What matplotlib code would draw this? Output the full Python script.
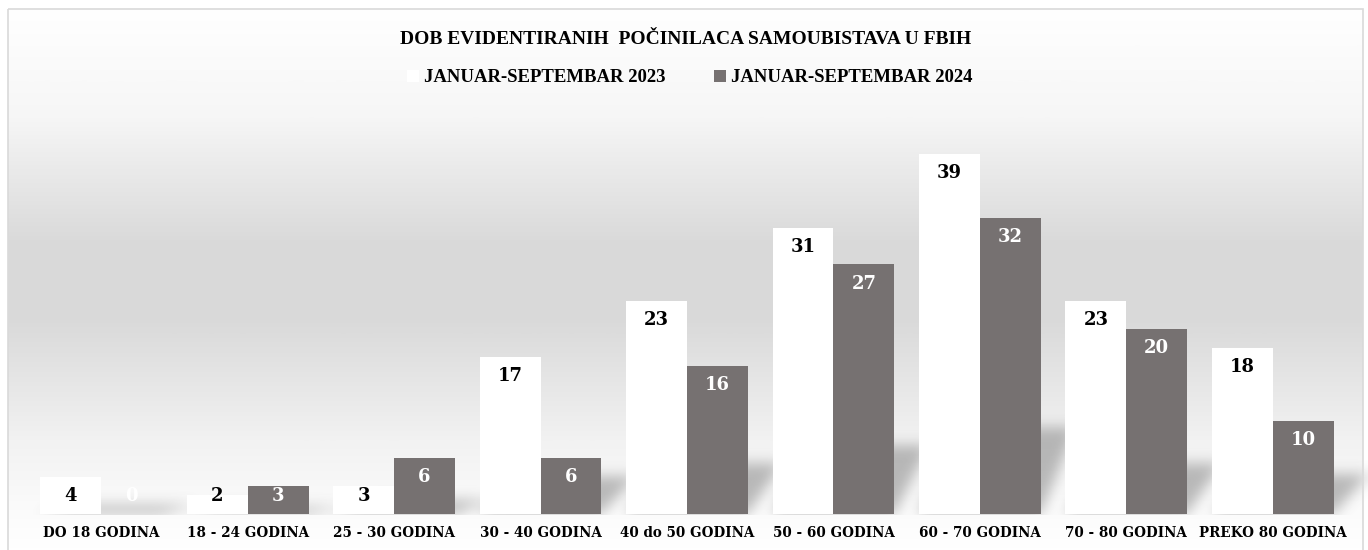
import numpy as np
import matplotlib
matplotlib.use("Agg")
import matplotlib.pyplot as plt
from matplotlib.patches import Rectangle
from matplotlib.path import Path
from matplotlib.colors import LinearSegmentedColormap

categories = ["DO 18 GODINA", "18 - 24 GODINA", "25 - 30 GODINA", "30 - 40 GODINA",
              "40 do 50 GODINA", "50 - 60 GODINA", "60 - 70 GODINA", "70 - 80 GODINA",
              "PREKO 80 GODINA"]
series_names = ["JANUAR-SEPTEMBAR 2023", "JANUAR-SEPTEMBAR 2024"]
values_2023 = [4, 2, 3, 17, 23, 31, 39, 23, 18]
values_2024 = [0, 3, 6, 6, 16, 27, 32, 20, 10]
title = "DOB EVIDENTIRANIH  POČINILACA SAMOUBISTAVA U FBIH"

W, H = 1368, 550
fig = plt.figure(figsize=(W / 100, H / 100), dpi=100)
fig.patch.set_facecolor("white")

# background gradient
bg = fig.add_axes([0, 0, 1, 1], zorder=0)
bg.axis("off")
stops = [(0.0, "#ffffff"), (110 / H, "#f6f6f6"), (240 / H, "#d9d9d9"), (320 / H, "#dadada"),
         (440 / H, "#f2f2f2"), (510 / H, "#fbfbfb"), (1.0, "#ffffff")]
cmap = LinearSegmentedColormap.from_list("bgg", stops)
grad = np.linspace(0, 1, 550).reshape(-1, 1)
bg.imshow(grad, aspect="auto", cmap=cmap, extent=(8, 1363, H, 8), zorder=0)
bg.add_patch(Rectangle((7.5, 8.5), 1355.5, 560, fill=False, edgecolor="#d9d9d9", linewidth=1.2, zorder=3))

# main axes
base_px = 513.7
px_per_unit = 9.23
ymax = 43
left_px, right_px = 28, 1346
top_px = base_px - ymax * px_per_unit
ax = fig.add_axes([left_px / W, (H - base_px) / H, (right_px - left_px) / W, (base_px - top_px) / H], zorder=2)
ax.patch.set_alpha(0)
x = np.arange(len(categories))
bw = 0.416
c1, c2 = "#ffffff", "#767171"
ax.set_xlim(-0.5, len(categories) - 0.5)
ax.set_ylim(0, ymax)

# soft floor shadows behind bar groups (derived from data through the axes transform)
mask = np.zeros((H, W))
yy, xx = np.mgrid[0:H, 0:W]
pts = np.column_stack([xx.ravel() + 0.5, (H - yy.ravel() - 0.5)])
for i in range(len(categories)):
    h = max(values_2023[i], values_2024[i])
    verts_data = [(x[i] - bw, 0), (x[i] + bw, 0), (x[i] + bw + 0.24, 0.24 * h), (x[i] - bw + 0.24, 0.24 * h)]
    verts = ax.transData.transform(verts_data)
    inside = Path(verts).contains_points(pts).reshape(H, W)
    mask = np.maximum(mask, inside.astype(float))

def box_blur(a, r, axis):
    c = np.cumsum(np.pad(a, [(r + 1, r) if k == axis else (0, 0) for k in range(2)], mode="edge"), axis=axis)
    if axis == 0:
        return (c[2 * r + 1:] - c[:-2 * r - 1]) / (2 * r + 1)
    return (c[:, 2 * r + 1:] - c[:, :-2 * r - 1]) / (2 * r + 1)

for _ in range(3):
    mask = box_blur(mask, 6, 0)
    mask = box_blur(mask, 6, 1)
mask[int(round(base_px)) + 1:, :] = 0
rgba = np.zeros((H, W, 4))
rgba[..., :3] = 0.42
rgba[..., 3] = 0.45 * mask
bg.imshow(rgba, extent=(0, W, H, 0), zorder=1, interpolation="nearest")
bg.set_xlim(0, W)
bg.set_ylim(H, 0)

b1 = ax.bar(x - bw / 2, values_2023, bw, color=c1, label=series_names[0], zorder=3)
b2 = ax.bar(x + bw / 2, values_2024, bw, color=c2, label=series_names[1], zorder=3)

lab_font = dict(family="DejaVu Serif", weight="bold", size=13)
for rects, vals, col in ((b1, values_2023, "#000000"), (b2, values_2024, "#ffffff")):
    for r, v in zip(rects, vals):
        ax.annotate(str(v), (r.get_x() + r.get_width() / 2, max(v, 4)), xytext=(0, -13.7),
                    textcoords="offset points", ha="center", va="center", color=col,
                    zorder=4, **lab_font)

ax.set_yticks([])
ax.set_xticks(x)
ax.set_xticklabels(categories, family="DejaVu Serif", weight="bold", fontsize=10.8,
                   fontstretch="condensed")
ax.tick_params(axis="x", length=0, pad=9)
for s in ax.spines.values():
    s.set_visible(False)

fig.text(686 / W, 1 - 40 / H, title, ha="center", va="center",
         family="Liberation Serif", weight="bold", fontsize=14.0)

leg = fig.legend(handles=[b1, b2], labels=series_names, loc="center",
                 bbox_to_anchor=(690 / W, 1 - 78 / H), ncol=2, frameon=False,
                 prop=dict(family="Liberation Serif", weight="bold", size=13.5),
                 handlelength=0.6, handleheight=0.6, handletextpad=0.3, columnspacing=2.6)

fig.savefig("out.png", dpi=100)
